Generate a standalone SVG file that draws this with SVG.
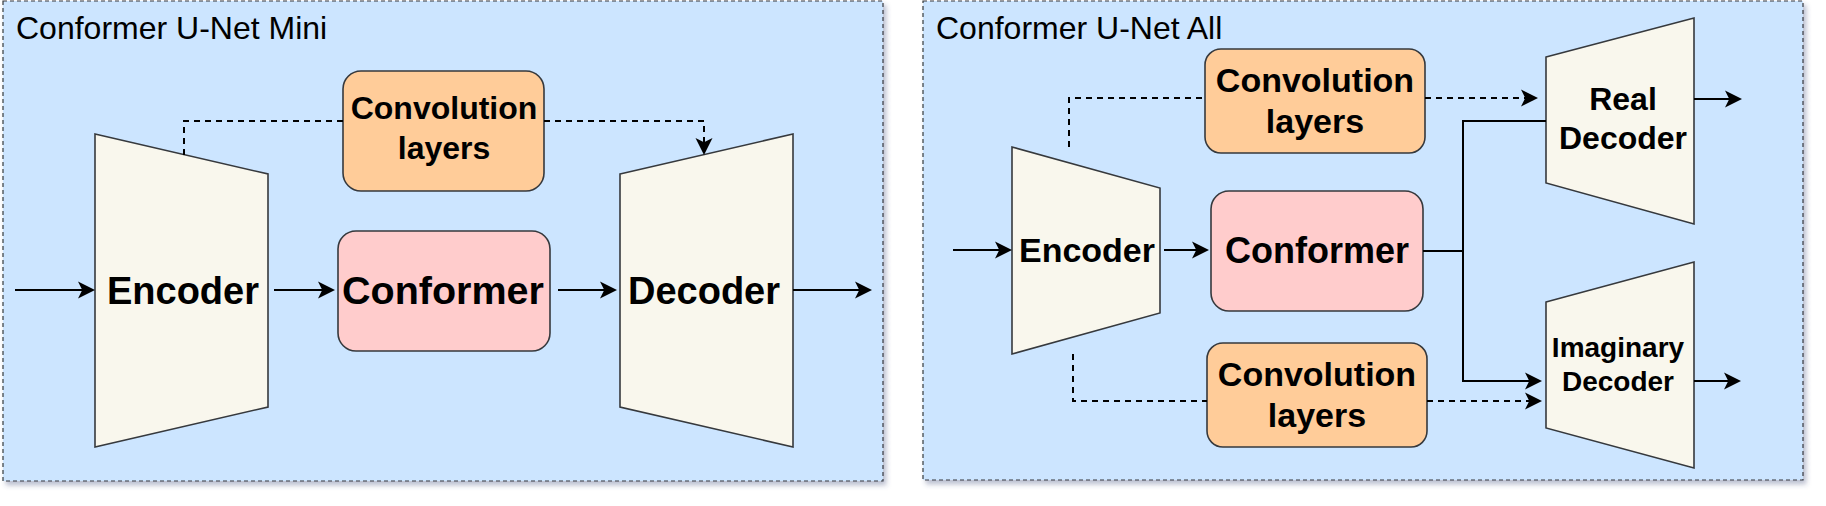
<svg xmlns="http://www.w3.org/2000/svg" width="1826" height="506" viewBox="0 0 1826 506">
  <defs>
    <filter id="shadow" x="-5%" y="-5%" width="115%" height="120%">
      <feDropShadow dx="3" dy="4" stdDeviation="2.5" flood-color="#3a4a7a" flood-opacity="0.35"/>
    </filter>
    <marker id="arrow" markerUnits="userSpaceOnUse" markerWidth="18" markerHeight="18" refX="12" refY="9" orient="auto" overflow="visible">
      <path d="M17,9 L0,0.5 L4.25,9 L0,17.5 Z" fill="#000"/>
    </marker>
    <style>
      .panel { fill: #cce5ff; stroke: #36393d; stroke-width: 1.2; stroke-dasharray: 4 3; filter: url(#shadow); }
      .title { font-family: "Liberation Sans", Arial, Helvetica, sans-serif; font-size: 32px; fill: #000; }
      .trap { fill: #f9f7ed; stroke: #36393d; stroke-width: 1.6; }
      .conv { fill: #ffcc99; stroke: #36393d; stroke-width: 1.6; }
      .conf { fill: #ffcccc; stroke: #36393d; stroke-width: 1.6; }
      .lbl { font-family: "Liberation Sans", Arial, Helvetica, sans-serif; font-weight: bold; fill: #000; text-anchor: middle; }
      .edge { fill: none; stroke: #000; stroke-width: 2; }
      .dash { stroke-dasharray: 6 5; }
    </style>
  </defs>

  <g id="panel-mini">
    <rect class="panel" x="3" y="1" width="880" height="480"/>
    <text class="title" x="16" y="39">Conformer U-Net Mini</text>
  </g>
  <g id="panel-all">
    <rect class="panel" x="923" y="1" width="880" height="479"/>
    <text class="title" x="936" y="39">Conformer U-Net All</text>
  </g>

  <!-- Left panel nodes -->
  <g id="mini-encoder">
    <polygon class="trap" points="95,134 268,174 268,407 95,447"/>
    <text class="lbl" x="183" y="304" font-size="38">Encoder</text>
  </g>
  <g id="mini-conv">
    <rect class="conv" x="343" y="71" width="201" height="120" rx="18" ry="18"/>
    <text class="lbl" x="444" y="119" font-size="32">Convolution</text>
    <text class="lbl" x="444" y="159" font-size="32">layers</text>
  </g>
  <g id="mini-conformer">
    <rect class="conf" x="338" y="231" width="212" height="120" rx="18" ry="18"/>
    <text class="lbl" x="443" y="304" font-size="39.5">Conformer</text>
  </g>
  <g id="mini-decoder">
    <polygon class="trap" points="620,174 793,134 793,447 620,407"/>
    <text class="lbl" x="704" y="304" font-size="38">Decoder</text>
  </g>

  <!-- Right panel nodes -->
  <g id="all-encoder">
    <polygon class="trap" points="1012,147 1160,188 1160,313 1012,354"/>
    <text class="lbl" x="1087" y="262" font-size="34">Encoder</text>
  </g>
  <g id="all-conv-top">
    <rect class="conv" x="1205" y="49" width="220" height="104" rx="16" ry="16"/>
    <text class="lbl" x="1315" y="92" font-size="34">Convolution</text>
    <text class="lbl" x="1315" y="133" font-size="34">layers</text>
  </g>
  <g id="all-conformer">
    <rect class="conf" x="1211" y="191" width="212" height="120" rx="18" ry="18"/>
    <text class="lbl" x="1317" y="263" font-size="36">Conformer</text>
  </g>
  <g id="all-conv-bottom">
    <rect class="conv" x="1207" y="343" width="220" height="104" rx="16" ry="16"/>
    <text class="lbl" x="1317" y="386" font-size="34">Convolution</text>
    <text class="lbl" x="1317" y="427" font-size="34">layers</text>
  </g>
  <g id="all-real-decoder">
    <polygon class="trap" points="1546,57 1694,18 1694,224 1546,183"/>
    <text class="lbl" x="1623" y="110" font-size="32">Real</text>
    <text class="lbl" x="1623" y="149" font-size="32">Decoder</text>
  </g>
  <g id="all-imag-decoder">
    <polygon class="trap" points="1546,302 1694,262 1694,468 1546,428"/>
    <text class="lbl" x="1618" y="357" font-size="28">Imaginary</text>
    <text class="lbl" x="1618" y="391" font-size="28">Decoder</text>
  </g>

  <g id="connectors">
    <!-- left panel -->
    <path class="edge" d="M15,290 H90" marker-end="url(#arrow)"/>
    <path class="edge" d="M274,290 H330" marker-end="url(#arrow)"/>
    <path class="edge" d="M558,290 H612" marker-end="url(#arrow)"/>
    <path class="edge" d="M793,290 H867" marker-end="url(#arrow)"/>
    <path class="edge dash" d="M184,155 V121 H343"/>
    <path class="edge dash" d="M544,121 H704 V150" marker-end="url(#arrow)"/>
    <!-- right panel -->
    <path class="edge" d="M953,250 H1007" marker-end="url(#arrow)"/>
    <path class="edge" d="M1164,250 H1204" marker-end="url(#arrow)"/>
    <path class="edge" d="M1423,251 H1463"/>
    <path class="edge" d="M1546,121 H1463 V381 H1537" marker-end="url(#arrow)"/>
    <path class="edge" d="M1694,99 H1737" marker-end="url(#arrow)"/>
    <path class="edge" d="M1694,381 H1736" marker-end="url(#arrow)"/>
    <path class="edge dash" d="M1069,147 V98 H1205"/>
    <path class="edge dash" d="M1425,98 H1533" marker-end="url(#arrow)"/>
    <path class="edge dash" d="M1073,354 V401 H1207"/>
    <path class="edge dash" d="M1427,401 H1537" marker-end="url(#arrow)"/>
  </g>
</svg>
